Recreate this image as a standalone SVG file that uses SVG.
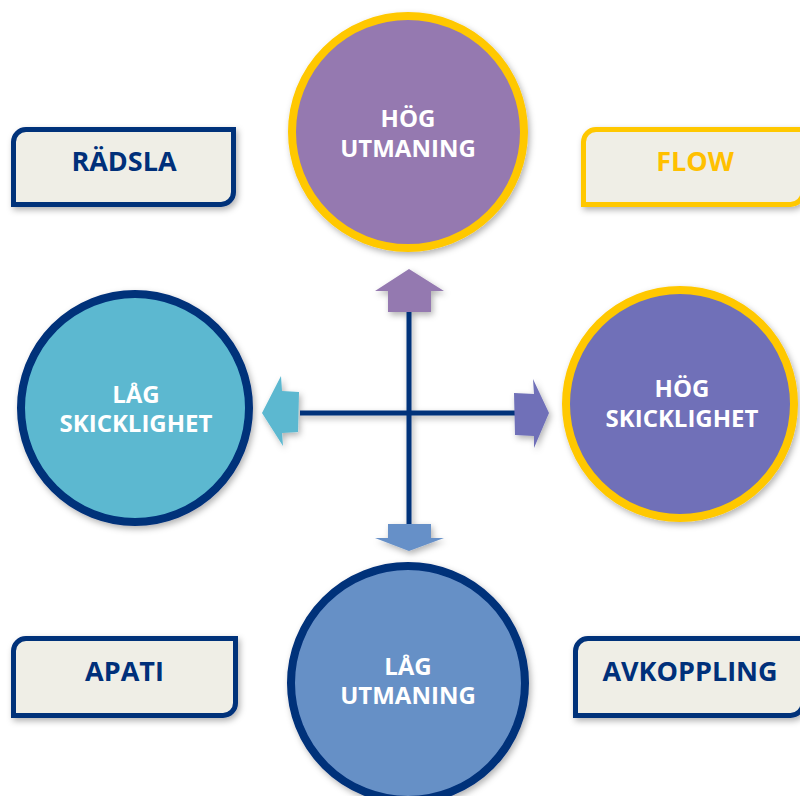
<svg xmlns="http://www.w3.org/2000/svg" width="800" height="796" viewBox="0 0 800 796">
<defs>
<filter id="sh" x="-20%" y="-20%" width="140%" height="140%">
<feDropShadow dx="2" dy="3" stdDeviation="3" flood-color="#000" flood-opacity="0.3"/>
</filter>
<style>
.box{fill:#EFEEE6;stroke:#00307A;stroke-width:5;filter:url(#sh)}
.box.y{stroke:#FFC800}
.bt{font-family:"Open Sans","Liberation Sans",sans-serif;font-weight:700;font-size:27px;fill:#00307A;text-anchor:middle}
.bt.y{fill:#FFC000}
.ct{font-family:"Open Sans","Liberation Sans",sans-serif;font-weight:700;font-size:24px;fill:#FFFFFF;text-anchor:middle}
.c{stroke-width:8;filter:url(#sh)}
.gold{stroke:#FFC800}
.navy{stroke:#00307A}
.axis{fill:#00307A}
</style>
</defs>
<rect width="800" height="796" fill="#FFFFFF"/>

<g id="connectors" filter="url(#sh)">
<rect class="axis" x="406.5" y="311" width="5" height="214"/>
<rect class="axis" x="300" y="410.5" width="215" height="5"/>
<polygon points="388,312 388,291 375,291 409,269 444,291 431,291 431,312" fill="#9479B0"/>
<polygon points="388,524 388,538 375,538 409,551 444,538 431,538 431,524" fill="#6690C8"/>
<polygon points="299,392 282,391 281,376 262,413 283,446 282,433 298,432" fill="#5BB8D0"/>
<polygon points="514,393 534,394 533,379 549,413 534,448 534,436 515,435" fill="#6F70B8"/>
</g>

<g id="box-radsla">
<path class="box" d="M26,129.5 H233.5 V192 A12.5,12.5 0 0 1 221,204.5 H13.5 V142 A12.5,12.5 0 0 1 26,129.5 Z"/>
<text class="bt" x="124" y="171">RÄDSLA</text>
</g>

<g id="box-flow">
<path class="box y" d="M596,129.5 H803 V192 A12.5,12.5 0 0 1 790.5,204.5 H583.5 V142 A12.5,12.5 0 0 1 596,129.5 Z"/>
<text class="bt y" x="695" y="171">FLOW</text>
</g>

<g id="box-apati">
<path class="box" d="M26,638.5 H235.5 V703 A12.5,12.5 0 0 1 223,715.5 H13.5 V651 A12.5,12.5 0 0 1 26,638.5 Z"/>
<text class="bt" x="124.5" y="681">APATI</text>
</g>

<g id="box-avkoppling">
<path class="box" d="M588,638.5 H803 V703 A12.5,12.5 0 0 1 790.5,715.5 H575.5 V651 A12.5,12.5 0 0 1 588,638.5 Z"/>
<text class="bt" x="690" y="681">AVKOPPLING</text>
</g>

<g id="circle-hog-utmaning">
<circle class="c gold" cx="408" cy="132" r="116" fill="#9579B0"/>
<text class="ct" x="408" y="127">HÖG</text>
<text class="ct" x="408" y="157">UTMANING</text>
</g>

<g id="circle-lag-skicklighet">
<circle class="c navy" cx="135" cy="408" r="114" fill="#5BB8D0"/>
<text class="ct" x="136" y="403">LÅG</text>
<text class="ct" x="136" y="432">SKICKLIGHET</text>
</g>

<g id="circle-hog-skicklighet">
<circle class="c gold" cx="680" cy="404" r="114" fill="#6F70B8"/>
<text class="ct" x="682" y="397">HÖG</text>
<text class="ct" x="682" y="427">SKICKLIGHET</text>
</g>

<g id="circle-lag-utmaning">
<circle class="c navy" cx="408" cy="683" r="117" fill="#6690C6"/>
<text class="ct" x="408" y="675">LÅG</text>
<text class="ct" x="408" y="704">UTMANING</text>
</g>
</svg>
